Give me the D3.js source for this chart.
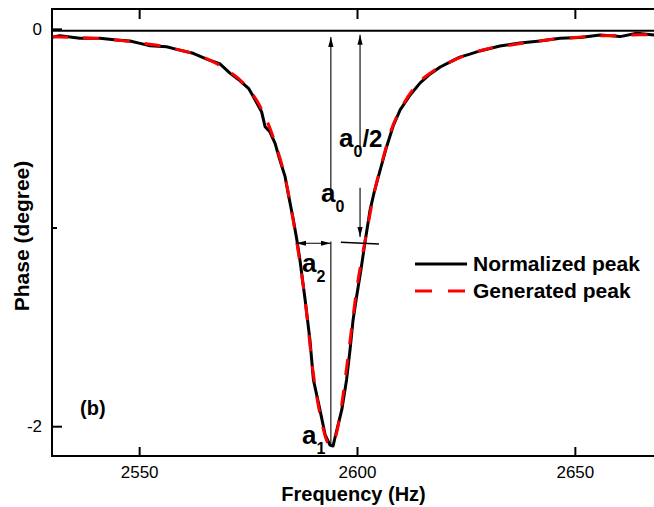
<!DOCTYPE html>
<html>
<head>
<meta charset="utf-8">
<script src="https://cdn.jsdelivr.net/npm/d3@7"></script>
<style>
  body { margin: 0; background: #fff; }
  svg { display: block; font-family: "Liberation Sans", Arial, Helvetica, sans-serif; }
</style>
</head>
<body>
<svg id="chart" width="654" height="507"></svg>
<script>
// Measured phase response (normalized peak), Hz / degree
const measuredFreq = [
  2530.0, 2531.8, 2534.1, 2536.4, 2541.0, 2544.8, 2547.9, 2550.2, 2552.5, 2556.3,
  2558.6, 2562.4, 2565.5, 2568.6, 2570.9, 2573.1, 2575.1, 2576.2, 2578.1, 2578.9,
  2580.0, 2581.2, 2582.3, 2583.5, 2584.2, 2585.4, 2586.2, 2586.9, 2588.1, 2589.2,
  2590.0, 2591.5, 2592.7, 2593.8, 2594.5, 2595.0, 2596.5, 2597.6, 2598.4, 2599.1,
  2599.9, 2600.9, 2601.8, 2603.0, 2603.9, 2604.9, 2606.8, 2608.3, 2609.9, 2612.2,
  2614.5, 2616.8, 2619.1, 2621.3, 2623.6, 2625.9, 2628.2, 2630.5, 2632.8, 2637.4,
  2642.0, 2646.6, 2651.2, 2655.8, 2660.4, 2664.2, 2668.2
];
const measuredPhase = [
  -0.042, -0.034, -0.041, -0.047, -0.047, -0.056, -0.061, -0.073, -0.085, -0.090,
  -0.103, -0.123, -0.152, -0.177, -0.224, -0.260, -0.299, -0.341, -0.417, -0.492,
  -0.518, -0.576, -0.660, -0.744, -0.828, -0.962, -1.063, -1.163, -1.365, -1.566,
  -1.767, -1.918, -2.044, -2.095, -2.100, -2.053, -1.918, -1.767, -1.616, -1.465,
  -1.348, -1.214, -1.079, -0.912, -0.826, -0.744, -0.593, -0.489, -0.408, -0.333,
  -0.272, -0.227, -0.192, -0.167, -0.142, -0.127, -0.111, -0.099, -0.086, -0.071,
  -0.061, -0.047, -0.043, -0.031, -0.039, -0.022, -0.031
];

// Generated (model) peak
const generatedFreq = [
  2530, 2535, 2540, 2545, 2550, 2555, 2560, 2565, 2570, 2574,
  2578, 2581, 2584, 2586, 2588, 2590, 2592, 2593, 2594, 2595,
  2596, 2598, 2600, 2602, 2604, 2606, 2608, 2610, 2614, 2618,
  2622, 2626, 2630, 2635, 2640, 2645, 2650, 2655, 2660, 2665, 2670
];
const generatedPhase = [
  -0.040, -0.043, -0.048, -0.056, -0.070, -0.086, -0.110, -0.145, -0.205, -0.275,
  -0.400, -0.560, -0.800, -1.050, -1.350, -1.740, -1.990, -2.070, -2.095, -2.060,
  -1.960, -1.640, -1.300, -1.050, -0.820, -0.650, -0.500, -0.405, -0.275, -0.205,
  -0.160, -0.125, -0.100, -0.082, -0.066, -0.052, -0.044, -0.036, -0.033, -0.030, -0.030
];

// Axis ticks
const xTicks = [2550, 2600, 2650];
const xTickLabels = ["2550", "2600", "2650"];
const yMajorTicks = [0, -2];
const yTickLabels = ["0", "-2"];
const yMinorTicks = [-1];

// Reference level and peak geometry (Hz / degree)
const baselinePhase = -0.01;
const peakFreq = 2594.0;
const peakPhase = -2.095;
const a0TopPhase = -0.041;
const halfFreq = 2600.7;
const halfTopPhase = -0.03;
const halfBottomPhase = -1.048;
const halfLevelPhase = -1.079;
const widthLeftFreq = 2586.0;
const halfMarkFreq = [2596.3, 2605.05];
const halfMarkPhase = [-1.074, -1.083];

const W = 654, H = 507;
const m = { left: 52, top: 9, right: 662, bottom: 456 };

const svg = d3.select("#chart");

const x = d3.scaleLinear().domain([2530, 2670]).range([m.left, m.right]);
const y = d3.scaleLinear().domain([-2.15, 0.1]).range([m.bottom, m.top]);

// Arrowhead marker
const defs = svg.append("defs");
defs.append("marker")
  .attr("id", "arrow")
  .attr("markerUnits", "userSpaceOnUse")
  .attr("viewBox", "0 -3 10 6")
  .attr("refX", 10).attr("refY", 0)
  .attr("markerWidth", 10).attr("markerHeight", 6)
  .attr("orient", "auto-start-reverse")
  .append("path").attr("d", "M0,-2.6L10,0L0,2.6Z").attr("fill", "#000");

defs.append("clipPath").attr("id", "plotClip")
  .append("rect")
  .attr("x", m.left).attr("y", m.top)
  .attr("width", m.right - m.left).attr("height", m.bottom - m.top);

const plot = svg.append("g").attr("clip-path", "url(#plotClip)");

// Zero reference line
plot.append("line")
  .attr("x1", x(2530)).attr("x2", x(2670))
  .attr("y1", y(baselinePhase)).attr("y2", y(baselinePhase))
  .attr("stroke", "#000").attr("stroke-width", 2);

const line = d3.line().x(d => x(d[0])).y(d => y(d[1]));

plot.append("path")
  .datum(d3.zip(measuredFreq, measuredPhase))
  .attr("d", line)
  .attr("fill", "none").attr("stroke", "#000")
  .attr("stroke-width", 3).attr("stroke-linejoin", "round");

plot.append("path")
  .datum(d3.zip(generatedFreq, generatedPhase))
  .attr("d", d3.line().curve(d3.curveMonotoneX).x(d => x(d[0])).y(d => y(d[1])))
  .attr("fill", "none").attr("stroke", "#ff0000")
  .attr("stroke-width", 3).attr("stroke-dasharray", "16,15");

// Annotations
const ann = svg.append("g").attr("stroke", "#000").attr("stroke-width", 1.1);

// a0: from minimum up to the baseline (label gap in between)
ann.append("line")
  .attr("x1", x(peakFreq)).attr("x2", x(peakFreq))
  .attr("y1", y(-0.84)).attr("y2", y(a0TopPhase))
  .attr("marker-end", "url(#arrow)");
ann.append("line")
  .attr("x1", x(peakFreq)).attr("x2", x(peakFreq))
  .attr("y1", y(peakPhase)).attr("y2", y(-1.07));

// a0/2: double arrow from baseline down to half depth
ann.append("line")
  .attr("x1", x(halfFreq)).attr("x2", x(halfFreq))
  .attr("y1", y(-0.61)).attr("y2", y(halfTopPhase))
  .attr("marker-end", "url(#arrow)");
ann.append("line")
  .attr("x1", x(halfFreq)).attr("x2", x(halfFreq))
  .attr("y1", y(-0.80)).attr("y2", y(halfBottomPhase))
  .attr("marker-end", "url(#arrow)");

// half-depth marker
ann.append("line")
  .attr("x1", x(halfMarkFreq[0])).attr("x2", x(halfMarkFreq[1]))
  .attr("y1", y(halfMarkPhase[0])).attr("y2", y(halfMarkPhase[1]))
  .attr("stroke-width", 1.4);

// a2: half width at half depth
ann.append("line")
  .attr("x1", x(widthLeftFreq)).attr("x2", x(peakFreq))
  .attr("y1", y(halfLevelPhase)).attr("y2", y(halfLevelPhase))
  .attr("marker-start", "url(#arrow)").attr("marker-end", "url(#arrow)");

// Subscripted labels
function subLabel(px, py, main, sub, tail) {
  const t = svg.append("text").attr("x", px).attr("y", py)
    .attr("font-weight", "bold").attr("fill", "#000");
  t.append("tspan").attr("font-size", 26).text(main);
  t.append("tspan").attr("font-size", 16).attr("dy", 10).text(sub);
  if (tail) t.append("tspan").attr("font-size", 24).attr("dy", -10).text(tail);
}
subLabel(339, 146.5, "a", "0", "/2");
subLabel(321, 201.5, "a", "0");
subLabel(302, 271.5, "a", "2");
subLabel(302, 443.5, "a", "1");

// Panel tag
svg.append("text").attr("x", 80).attr("y", 415)
  .attr("font-size", 20).attr("font-weight", "bold").text("(b)");

// Frame
svg.append("rect")
  .attr("x", m.left).attr("y", m.top)
  .attr("width", m.right - m.left).attr("height", m.bottom - m.top)
  .attr("fill", "none").attr("stroke", "#000").attr("stroke-width", 2);

// Axes
function styleAxis(g) {
  g.select(".domain").remove();
  g.selectAll(".tick line").attr("stroke", "#000").attr("stroke-width", 2);
  g.selectAll(".tick text").attr("fill", "#000").attr("font-size", 17)
    .attr("font-family", "Liberation Sans, Arial, sans-serif");
}

svg.append("g").attr("transform", `translate(0,${m.bottom})`)
  .call(d3.axisBottom(x).tickValues(xTicks).tickSize(-9).tickPadding(10)
    .tickFormat((d, i) => xTickLabels[i]))
  .call(styleAxis);

svg.append("g").attr("transform", `translate(0,${m.top})`)
  .call(d3.axisTop(x).tickValues(xTicks).tickSize(-10).tickFormat(""))
  .call(styleAxis);

svg.append("g").attr("transform", `translate(${m.left},0)`)
  .call(d3.axisLeft(y).tickValues(yMajorTicks).tickSize(-10).tickPadding(10)
    .tickFormat((d, i) => yTickLabels[i]))
  .call(styleAxis);

svg.append("g").attr("transform", `translate(${m.left},0)`)
  .call(d3.axisLeft(y).tickValues(yMinorTicks).tickSize(-5).tickFormat(""))
  .call(styleAxis);

// Axis titles
svg.append("text").attr("x", 353.5).attr("y", 500.5)
  .attr("text-anchor", "middle").attr("font-size", 20).attr("font-weight", "bold")
  .text("Frequency (Hz)");

svg.append("text")
  .attr("transform", "translate(29,236) rotate(-90)")
  .attr("text-anchor", "middle").attr("font-size", 21).attr("font-weight", "bold")
  .text("Phase (degree)");

// Legend
const legend = svg.append("g");
legend.append("line").attr("x1", 415).attr("x2", 467).attr("y1", 264).attr("y2", 264)
  .attr("stroke", "#000").attr("stroke-width", 3);
legend.append("line").attr("x1", 415).attr("x2", 467).attr("y1", 291).attr("y2", 291)
  .attr("stroke", "#ff0000").attr("stroke-width", 3).attr("stroke-dasharray", "17,16");
legend.append("text").attr("x", 473).attr("y", 271)
  .attr("font-size", 21).attr("font-weight", "bold").text("Normalized peak");
legend.append("text").attr("x", 473).attr("y", 297.5)
  .attr("font-size", 21).attr("font-weight", "bold").text("Generated peak");
</script>
</body>
</html>
